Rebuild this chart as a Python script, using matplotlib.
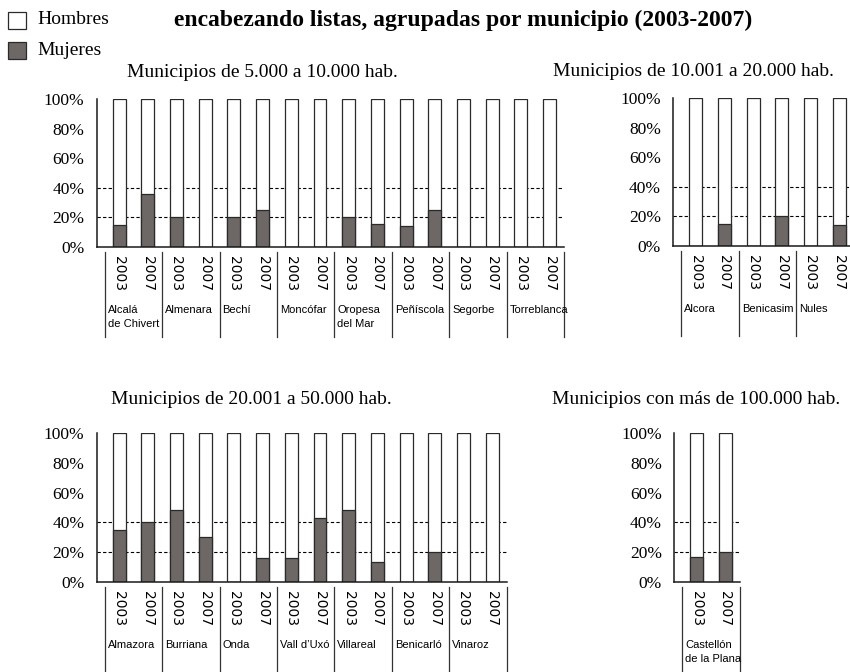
import matplotlib
matplotlib.use("Agg")
import matplotlib.pyplot as plt
import matplotlib.transforms as mtransforms
from matplotlib.patches import Rectangle

# ---------------- data ----------------
years = ["2003", "2007"]

g1_title = "Municipios de 5.000 a 10.000 hab."
g1_names = ["Alcalá\nde Chivert", "Almenara", "Bechí", "Moncófar", "Oropesa\ndel Mar",
            "Peñíscola", "Segorbe", "Torreblanca"]
g1_2003 = [15, 20, 20, 0, 20, 14.3, 0, 0]
g1_2007 = [35.7, 0, 25, 0, 15.4, 25, 0, 0]

g2_title = "Municipios de 10.001 a 20.000 hab."
g2_names = ["Alcora", "Benicasim", "Nules"]
g2_2003 = [0, 0, 0]
g2_2007 = [15, 20, 14.3]

g3_title = "Municipios de 20.001 a 50.000 hab."
g3_names = ["Almazora", "Burriana", "Onda", "Vall d’Uxó", "Villareal", "Benicarló", "Vinaroz"]
g3_2003 = [34.6, 48.5, 0, 16, 48.5, 0, 0]
g3_2007 = [40, 30, 16, 42.9, 13.6, 20, 0]

g4_title = "Municipios con más de 100.000 hab."
g4_names = ["Castellón\nde la Plana"]
g4_2003 = [16.8]
g4_2007 = [20]

main_title = "encabezando listas, agrupadas por municipio (2003-2007)"
legend_labels = ["Hombres", "Mujeres"]

# ---------------- style ----------------
W, H = 850, 672
SP = 28.7          # px between bar centres
GRAY = "#6d6765"
EDGE = "#2a2a2a"
SERIF = ["Liberation Serif", "DejaVu Serif"]

fig = plt.figure(figsize=(W / 100, H / 100), dpi=100)


def panel(left_px, top_px, bottom_px, names, v03, v07, title, title_cx, title_base, clip_right=None):
    n = 2 * len(names)
    x0 = -0.78
    x1 = n - 0.5
    width_px = (x1 - x0) * SP
    if clip_right is not None and left_px + width_px > clip_right:
        width_px = clip_right - left_px
        x1 = x0 + width_px / SP
    ax = fig.add_axes([left_px / W, 1 - bottom_px / H, width_px / W, (bottom_px - top_px) / H])
    ax.set_xlim(x0, x1)
    ax.set_ylim(0, 100)
    pos = list(range(n))
    women = []
    for a, b in zip(v03, v07):
        women += [a, b]
    ax.bar(pos, [100] * n, width=0.45, color="white", edgecolor=EDGE, linewidth=0.9, zorder=2)
    ax.bar(pos, women, width=0.45, color=GRAY, edgecolor=EDGE, linewidth=0.9, zorder=3)
    for yv in (20, 40):
        ax.axhline(yv, color="black", lw=0.8, ls=(0, (3, 2)), zorder=1)
    for s in ("top", "right"):
        ax.spines[s].set_visible(False)
    for s in ("left", "bottom"):
        ax.spines[s].set_linewidth(1.1)
        ax.spines[s].set_color("#1a1a1a")
        ax.spines[s].set_zorder(4)
    ax.set_xticks([])
    ax.set_yticks(range(0, 101, 20))
    ax.set_yticklabels([f"{v}%" for v in range(0, 101, 20)], fontfamily=SERIF, fontsize=12.5)
    ax.tick_params(axis="y", length=0, pad=9)
    trans = mtransforms.blended_transform_factory(ax.transData, ax.transAxes)
    for i in range(n):
        ax.annotate(years[i % 2], xy=(i, 0), xycoords="data", xytext=(0, -9),
                    textcoords="offset pixels", rotation=270, ha="center", va="top",
                    fontsize=10, fontfamily=["DejaVu Sans"], annotation_clip=False)
    for k in range(len(names) + 1):
        xs = 2 * k - 0.5
        ax.plot([xs, xs], [-0.035, -0.61], transform=trans, clip_on=False,
                color="#333333", lw=0.9)
    for k, nm in enumerate(names):
        xs = 2 * k - 0.5
        ax.annotate(nm, xy=(xs, 0), xycoords="data", xytext=(3, -58),
                    textcoords="offset pixels", ha="left", va="top", fontsize=8,
                    fontfamily=["Liberation Sans", "DejaVu Sans"], fontstretch="condensed",
                    linespacing=1.45, annotation_clip=False)
    fig.text(title_cx / W, 1 - title_base / H, title, ha="center", va="baseline",
             fontsize=14, fontfamily=SERIF)
    return ax


panel(96.7, 99, 247, g1_names, g1_2003, g1_2007, g1_title, 262, 77)
panel(673.3, 98, 246, g2_names, g2_2003, g2_2007, g2_title, 693, 76, clip_right=W)
panel(96.7, 433, 582, g3_names, g3_2003, g3_2007, g3_title, 251, 404)
panel(674.3, 433, 582, g4_names, g4_2003, g4_2007, g4_title, 696, 404)

# main title (second line of original heading)
fig.text(463 / W, 1 - 26 / H, main_title, ha="center", va="baseline",
         fontsize=17, fontweight="bold", fontfamily=SERIF)

# legend
for (lab, col, ytop, base) in [(legend_labels[0], "white", 12, 24), (legend_labels[1], GRAY, 42, 55)]:
    fig.add_artist(Rectangle((7.5 / W, 1 - (ytop + 17) / H), 18.5 / W, 17 / H,
                             transform=fig.transFigure, facecolor=col, edgecolor=EDGE, lw=0.9))
    fig.text(37 / W, 1 - base / H, lab, ha="left", va="baseline", fontsize=14,
             fontfamily=SERIF)

fig.savefig("out.png", dpi=100)
